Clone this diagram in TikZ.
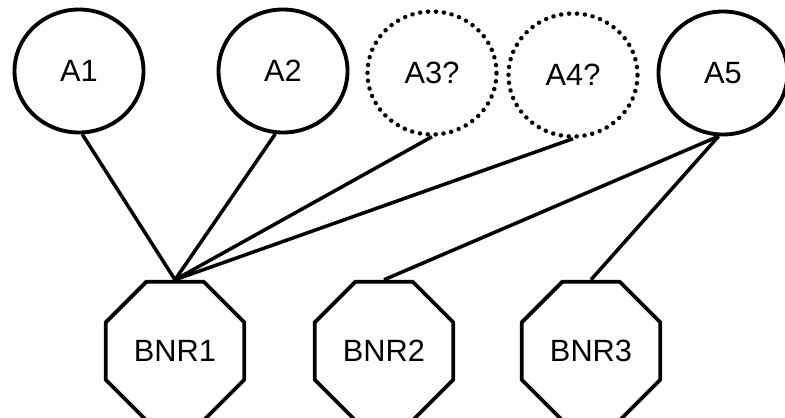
\documentclass[tikz,border=0pt]{standalone}
\usepackage{fontspec}
\setmainfont{Liberation Sans}
\usetikzlibrary{shapes}

\begin{document}
\begin{tikzpicture}[
  allele/.style={draw, ellipse, line width=2.2pt, minimum width=2.58cm, minimum height=2.46cm, inner sep=0pt, font=\fontsize{17.5}{20}\selectfont},
  unsure/.style={allele, line width=2.5pt, line cap=round, dash pattern=on 0.1pt off 4.4pt},
  bnr/.style={draw, regular polygon, regular polygon sides=8, line width=2.2pt, minimum size=3cm, inner sep=0pt, font=\fontsize{17.5}{20}\selectfont},
  link/.style={line width=2pt}
]
  \useasboundingbox (0,0) rectangle (15.7,-8.34);

  % Top row
  \node[allele] (a1) at (1.58, -1.42) {A1};
  \node[allele] (a2) at (5.66, -1.42) {A2};
  \node[unsure] (a3) at (8.64, -1.46) {A3?};
  \node[unsure] (a4) at (11.46, -1.5) {A4?};
  \node[allele] (a5) at (14.46, -1.46) {A5};

  % Bottom row
  \node[bnr] (bnr1) at (3.5, -7.02) {BNR1};
  \node[bnr] (bnr2) at (7.68, -7.02) {BNR2};
  \node[bnr] (bnr3) at (11.82, -7.02) {BNR3};

  % Links
  \draw[link] (a1.-87) -- (bnr1.north);
  \draw[link] (a2.-97) -- (bnr1.north);
  \draw[link] (a3.south) -- (bnr1.north);
  \draw[link] (a4.south) -- (bnr1.north);
  \draw[link] (a5.-94) -- (bnr2.north);
  \draw[link] (a5.-94) -- (bnr3.north);
\end{tikzpicture}
\end{document}
